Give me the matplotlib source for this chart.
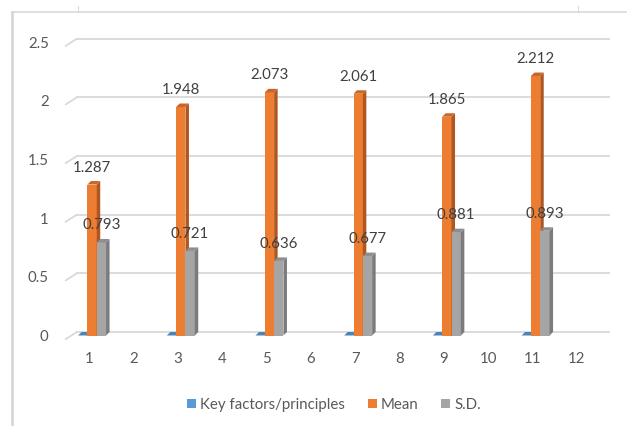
import matplotlib
matplotlib.use("Agg")
import matplotlib.pyplot as plt
from matplotlib.patches import Patch, Polygon
from matplotlib.lines import Line2D
from matplotlib.transforms import ScaledTranslation
import numpy as np

plt.rcParams['font.family'] = ['Lato', 'DejaVu Sans']

# item numbers on the x axis; even rows are empty
categories = list(range(1, 13))
nan = np.nan
key_factors = [0, nan, 0, nan, 0, nan, 0, nan, 0, nan, 0, nan]
mean_vals = [1.287, nan, 1.948, nan, 2.073, nan, 2.061, nan, 1.865, nan, 2.212, nan]
sd_vals = [0.793, nan, 0.721, nan, 0.636, nan, 0.677, nan, 0.881, nan, 0.893, nan]
series_names = ['Key factors/principles', 'Mean', 'S.D.']
y_ticks = [0, 0.5, 1, 1.5, 2, 2.5]
y_ticklabels = ['0', '0.5', '1', '1.5', '2', '2.5']

face = ['#5B9BD5', '#ED7D31', '#A5A5A5']
side = ['#41719C', '#B0561F', '#7B7B7B']
top = ['#4A84BA', '#C9672A', '#8E8E8E']
text_col = '#595959'
grid_col = '#D9D9D9'

W, H = 627, 426
fig = plt.figure(figsize=(W / 100, H / 100), dpi=100)
ax = fig.add_axes([66.8 / W, 90.5 / H, 532.2 / W, 293.25 / H])
ax.set_xlim(0.5, 12.5)
ax.set_ylim(0, 2.5)
for s in ax.spines.values():
    s.set_visible(False)
ax.set_facecolor('none')

# back-wall gridlines, pushed up/right to fake the 3D depth
def px_offset(dx, dy):
    return ax.transData + ScaledTranslation(dx / 100, dy / 100, fig.dpi_scale_trans)

for v in y_ticks:
    ax.plot([0.5, 12.5], [v, v], color=grid_col, lw=1.3, clip_on=False,
            transform=px_offset(10, 3.5), zorder=0)
    # short floor/side slant at the left end of every gridline
    x0, y0 = ax.transData.transform((0.5, v))
    ax.add_line(Line2D([x0 - 1, x0 + 10], [y0 - 3.5, y0 + 3.5], color=grid_col, lw=1.3,
                       transform=None, clip_on=False, zorder=0))

ax.set_yticks(y_ticks)
ax.set_yticklabels(y_ticklabels)
ax.set_xticks(categories)
ax.set_xticklabels([str(c) for c in categories])
ax.tick_params(axis='y', length=0, pad=13, labelsize=10.8, labelcolor=text_col)
ax.tick_params(axis='x', length=0, pad=12, labelsize=10.8, labelcolor=text_col)

# clustered columns with a simple 3D side and cap
w = 0.21
shift = 0.07
inv = ax.transData.inverted()
p0 = inv.transform(ax.transData.transform((0, 0)))
d = inv.transform(ax.transData.transform((0, 0)) + np.array([3.5, 3.5])) - p0
ddx, ddy = d

x = np.array(categories, dtype=float)
all_series = [key_factors, mean_vals, sd_vals]
for i, vals in enumerate(all_series):
    vals = np.array(vals, dtype=float)
    xs = x + shift + (i - 1) * w
    ok = ~np.isnan(vals)
    ax.bar(xs[ok], vals[ok], width=w, color=face[i], zorder=3, linewidth=0)
    for xc, h in zip(xs[ok], vals[ok]):
        xl, xr = xc - w / 2, xc + w / 2
        ax.add_patch(Polygon([(xr, 0), (xr + ddx, ddy), (xr + ddx, h + ddy), (xr, h)],
                             closed=True, fc=side[i], ec='none', zorder=3))
        ax.add_patch(Polygon([(xl, h), (xl + ddx, h + ddy), (xr + ddx, h + ddy), (xr, h)],
                             closed=True, fc=top[i], ec='none', zorder=3))
        if i > 0:
            ax.annotate(f'{h:.3f}', (xc, h), xytext=(0, 17), textcoords='offset pixels',
                        ha='center', va='center', fontsize=10.8, color='#404040', zorder=4)

# legend under the plot
handles = [Patch(facecolor=c, edgecolor='none') for c in face]
fig.legend(handles, series_names, loc='center', bbox_to_anchor=(334 / W, 1 - 405 / H),
           ncol=3, frameon=False, handlelength=0.6, handleheight=0.6, handletextpad=0.3,
           columnspacing=1.5, fontsize=10.8, labelcolor=text_col)

# chart border
fig.add_artist(Line2D([12 / W, 1.0], [1 - 12 / H, 1 - 12 / H], color='#D9D9D9', lw=1.2,
                      transform=fig.transFigure))
fig.add_artist(Line2D([12 / W, 12 / W], [0, 1 - 12 / H], color='#D4D4D4', lw=1.8,
                      transform=fig.transFigure))
for xp in (78, 578):
    fig.add_artist(Line2D([xp / W, xp / W], [1 - 12 / H, 1 - 6 / H], color='#D9D9D9', lw=0.8,
                          transform=fig.transFigure))

fig.savefig('out.png', dpi=100)
